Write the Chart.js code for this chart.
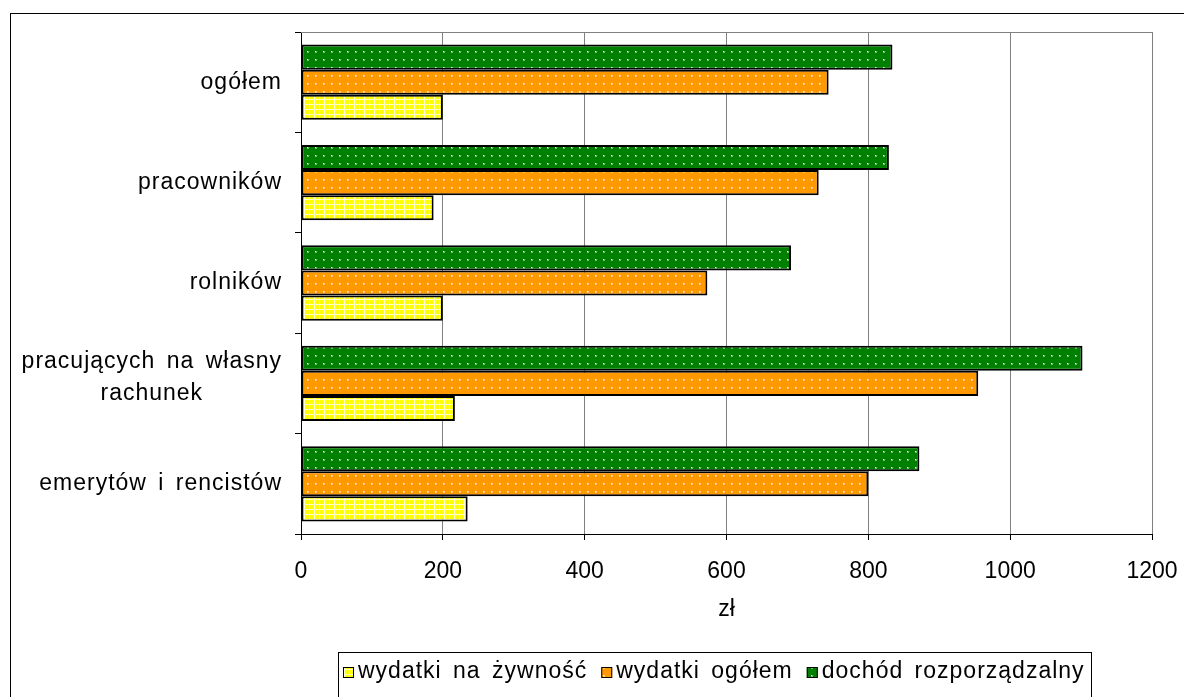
<!DOCTYPE html>
<html>
<head>
<meta charset="utf-8">
<script src="https://cdn.jsdelivr.net/npm/chart.js@4.4.1/dist/chart.umd.min.js"></script>
<style>
    html, body { margin: 0; padding: 0; background: #fff; }
    canvas { display: block; }
</style>
</head>
<body>
<canvas id="chart" width="1184" height="697"></canvas>
<script>
// dane
const categories = ['ogółem', 'pracowników', 'rolników', ['pracujących na własny', 'rachunek'], 'emerytów i rencistów'];
const seriesNames = ['wydatki na żywność', 'wydatki ogółem', 'dochód rozporządzalny'];
const foodSpending = [200, 187, 200, 217, 235];
const totalSpending = [744, 730, 573, 955, 800];
const disposableIncome = [834, 829, 691, 1102, 872];
const xTicks = [0, 200, 400, 600, 800, 1000, 1200];
const axisTitle = 'zł';

const FONT = "'Liberation Sans', Arial, sans-serif";
const FS = 23;

// wzory wypełnienia
function dotPattern(bg) {
    const c = document.createElement('canvas');
    c.width = 8; c.height = 8;
    const g = c.getContext('2d');
    g.fillStyle = bg;
    g.fillRect(0, 0, 8, 8);
    g.fillStyle = 'rgba(255,255,255,0.45)';
    g.fillRect(3, 3, 2, 2);
    g.fillStyle = '#ffffff';
    g.fillRect(3, 3, 1, 1);
    return g.createPattern(c, 'repeat');
}

function gridPattern(bg) {
    const c = document.createElement('canvas');
    c.width = 5; c.height = 5;
    const g = c.getContext('2d');
    g.fillStyle = '#ffffcc';
    g.fillRect(0, 0, 5, 5);
    g.fillStyle = bg;
    g.fillRect(0, 0, 4, 4);
    return g.createPattern(c, 'repeat');
}

function setText(ctx) {
    ctx.fillStyle = '#000';
    ctx.font = FS + 'px ' + FONT;
    ctx.letterSpacing = '1px';
    ctx.wordSpacing = '4px';
    ctx.textBaseline = 'middle';
}

// ramka, etykiety kategorii i legenda
const framePlugin = {
    id: 'frame',
    beforeDraw(chart) {
        const ctx = chart.ctx;
        ctx.save();
        ctx.fillStyle = '#fff';
        ctx.fillRect(0, 0, chart.width, chart.height);
        ctx.strokeStyle = '#000';
        ctx.lineWidth = 1;
        ctx.strokeRect(10.5, 13.5, chart.width + 20, chart.height + 20);
        ctx.restore();
    },
    afterDraw(chart) {
        const ctx = chart.ctx;
        const area = chart.chartArea;
        ctx.save();
        ctx.strokeStyle = '#808080';
        ctx.lineWidth = 1;
        ctx.beginPath();
        ctx.moveTo(area.left, area.top + 0.5);
        ctx.lineTo(area.right, area.top + 0.5);
        ctx.stroke();

        // etykiety kategorii
        const y = chart.scales.y;
        setText(ctx);
        const rightX = area.left - 19;
        categories.forEach((lab, i) => {
            const py = y.getPixelForValue(i);
            if (Array.isArray(lab)) {
                const w = Math.max(...lab.map(s => ctx.measureText(s).width));
                ctx.textAlign = 'center';
                const lh = 32;
                const start = py - 6 - (lab.length - 1) * lh / 2;
                lab.forEach((s, k) => ctx.fillText(s, rightX - w / 2, start + k * lh));
            } else {
                ctx.textAlign = 'right';
                ctx.fillText(lab, rightX, py);
            }
        });

        // legenda (kolejność: żywność, ogółem, dochód)
        const items = chart.data.datasets.slice().reverse();
        const top = chart.height - 45;
        const midY = top + 20;
        let x = area.left + 42;
        const startX = x;
        ctx.textAlign = 'left';
        items.forEach((ds, k) => {
            ctx.fillStyle = ds.backgroundColor;
            ctx.fillRect(x, midY - 5, 11, 11);
            ctx.strokeStyle = '#000';
            ctx.lineWidth = 1;
            ctx.strokeRect(x + 0.5, midY - 4.5, 10, 10);
            x += 15;
            ctx.fillStyle = '#000';
            ctx.fillText(ds.label, x, midY);
            x += ctx.measureText(ds.label).width + (k < items.length - 1 ? 14 : 6);
        });
        ctx.strokeStyle = '#000';
        ctx.lineWidth = 1;
        ctx.strokeRect(Math.round(startX - 5) + 0.5, top + 0.5, Math.round(x - startX + 5), 60);
        ctx.restore();
    }
};

const ctx = document.getElementById('chart').getContext('2d');

new Chart(ctx, {
    type: 'bar',
    data: {
        labels: categories,
        datasets: [
            {
                label: seriesNames[2],
                data: disposableIncome,
                backgroundColor: dotPattern('#008000')
            },
            {
                label: seriesNames[1],
                data: totalSpending,
                backgroundColor: dotPattern('#ff9900')
            },
            {
                label: seriesNames[0],
                data: foodSpending,
                backgroundColor: gridPattern('#ffff00')
            }
        ]
    },
    options: {
        indexAxis: 'y',
        responsive: false,
        animation: false,
        datasets: {
            bar: {
                borderColor: '#000',
                borderWidth: 2,
                borderSkipped: false,
                barPercentage: 1,
                categoryPercentage: 0.75
            }
        },
        layout: {
            padding: { top: 32, left: 295, right: 0, bottom: 45 }
        },
        scales: {
            x: {
                min: 0,
                max: 1200,
                afterBuildTicks: scale => { scale.ticks = xTicks.map(v => ({ value: v })); },
                afterFit: scale => { scale.paddingRight = 32; },
                ticks: {
                    color: '#000',
                    font: { family: FONT, size: FS, lineHeight: 1 },
                    padding: 20,
                    maxRotation: 0,
                    callback: v => String(v)
                },
                grid: {
                    color: '#808080',
                    tickColor: '#000',
                    tickLength: 6
                },
                border: { color: '#000', width: 1 },
                title: {
                    display: true,
                    text: axisTitle,
                    color: '#000',
                    font: { family: FONT, size: FS, lineHeight: 1 },
                    padding: { top: -5, bottom: 31 }
                }
            },
            y: {
                offset: true,
                ticks: { display: false },
                grid: {
                    drawOnChartArea: false,
                    offset: true,
                    tickLength: 6,
                    tickColor: '#000'
                },
                border: { color: '#000', width: 1 }
            }
        },
        plugins: {
            legend: { display: false },
            tooltip: { enabled: false }
        }
    },
    plugins: [framePlugin]
});
</script>
</body>
</html>
